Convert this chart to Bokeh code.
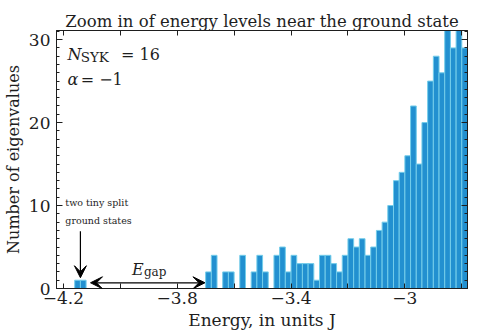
import numpy as np
from bokeh.plotting import figure
from bokeh.models import (FixedTicker, LinearAxis, CustomJSTickFormatter, Label,
                          Arrow, VeeHead, Range1d, ColumnDataSource)
from bokeh.embed import file_html
from bokeh.resources import INLINE

# ---- data ----
bin_start = -4.16
bin_width = 0.02
counts = ([1, 1] + [0] * 21 +
          [2, 4, 0, 2, 2, 0, 4, 0, 2, 4, 2, 0, 4, 5, 2, 4, 3, 3, 3, 1, 4, 4, 3, 2,
           4, 6, 5, 6, 4, 5, 7, 8, 10, 13, 14, 16, 22, 15, 20, 25, 28, 26, 33, 29,
           33, 29])
x_major_ticks = [-4.2, -3.8, -3.4, -3.0]
x_minor_ticks = [-4.0, -3.6, -3.2, -2.8]
x_tick_labels = ["\u22124.2", "\u22123.8", "\u22123.4", "\u22123"]
y_major_ticks = [0, 10, 20, 30]
y_minor_ticks = list(range(0, 32))

title_text = "Zoom in of energy levels near the ground state"
xlabel_text = "Energy, in units J"
ylabel_text = "Number of eigenvalues"

n = len(counts)
lefts = bin_start + bin_width * np.arange(n)
src = ColumnDataSource(dict(left=lefts, right=lefts + bin_width, top=counts,
                            bottom=np.zeros(n)))

SERIF = "DejaVu Serif"
INK = "#1e1e1e"

p = figure(width=469, height=332, x_range=Range1d(-4.224, -2.78),
           y_range=Range1d(0, 31.1), output_backend="svg", toolbar_location=None,
           min_border_left=49, min_border_right=2, min_border_top=30,
           min_border_bottom=44, title=title_text)
p.grid.visible = False
p.outline_line_color = INK
p.background_fill_color = "white"
p.border_fill_color = "white"

p.title.text_font = SERIF
p.title.text_font_size = "16.5px"
p.title.text_font_style = "normal"
p.title.text_color = INK
p.title.align = "center"
p.title.standoff = 0

p.quad(left="left", right="right", top="top", bottom="bottom", source=src,
       fill_color="#2290d0", line_color="#74cdea", line_width=1)

fmt = CustomJSTickFormatter(args=dict(majors=x_major_ticks, labs=x_tick_labels),
                            code="""
for (let i = 0; i < majors.length; i++) {
  if (Math.abs(tick - majors[i]) < 1e-6) return labs[i];
}
return '';
""")
blank = CustomJSTickFormatter(code="return '';")

def style_axis(ax, major, minor, tin, tmin, labels=True):
    ax.ticker = FixedTicker(ticks=major, minor_ticks=minor)
    ax.major_tick_in = tin
    ax.major_tick_out = 0
    ax.minor_tick_in = tmin
    ax.minor_tick_out = 0
    ax.axis_line_color = INK
    ax.major_tick_line_color = INK
    ax.minor_tick_line_color = INK
    ax.major_label_text_font = SERIF
    ax.major_label_text_color = INK
    if labels:
        ax.major_label_text_font_size = "17px"
    else:
        ax.formatter = blank
        ax.major_label_text_font_size = "1px"
        ax.major_label_standoff = 0

xa = p.xaxis[0]
style_axis(xa, x_major_ticks, x_minor_ticks, 5, 5)
xa.formatter = fmt
xa.major_label_standoff = 3
xa.axis_label = xlabel_text
xa.axis_label_text_font = SERIF
xa.axis_label_text_font_size = "17px"
xa.axis_label_text_font_style = "normal"
xa.axis_label_text_color = INK
xa.axis_label_standoff = 3

ya = p.yaxis[0]
style_axis(ya, y_major_ticks, y_minor_ticks, 6, 3)
ya.major_label_standoff = 6
ya.axis_label = ylabel_text
ya.axis_label_text_font = SERIF
ya.axis_label_text_font_size = "16px"
ya.axis_label_text_font_style = "normal"
ya.axis_label_text_color = INK
ya.axis_label_standoff = 3

top_ax = LinearAxis()
style_axis(top_ax, x_major_ticks, x_minor_ticks, 5, 5, labels=False)
p.add_layout(top_ax, "above")
right_ax = LinearAxis()
style_axis(right_ax, y_major_ticks, y_minor_ticks, 6, 3, labels=False)
p.add_layout(right_ax, "right")

def lab(x, y, text, size, style="normal"):
    p.add_layout(Label(x=x, y=y, text=text, text_font=SERIF, text_font_size=size,
                       text_font_style=style, text_color=INK,
                       text_baseline="alphabetic", text_align="left"))

# annotations
lab(-4.185, 28.17, "N", "16px", "italic")
lab(-4.139, 27.87, "SYK", "13.5px")
lab(-3.997, 28.17, "= 16", "16px")
lab(-4.185, 25.24, "\u03b1", "16px", "italic")
lab(-4.139, 25.24, "= \u22121", "16px")
lab(-4.193, 10.31, "two tiny split", "9.5px")
lab(-4.193, 8.18, "ground states", "9.5px")
lab(-3.9586, 2.32, "E", "16px", "italic")
lab(-3.917, 1.99, "gap", "12px")

p.add_layout(Arrow(end=VeeHead(size=12, fill_color="black", line_color="black"),
                   x_start=-4.14, y_start=6.9, x_end=-4.14, y_end=1.3,
                   line_color="black", line_width=1.2))
p.add_layout(Arrow(start=VeeHead(size=12, fill_color="black", line_color="black"),
                   end=VeeHead(size=12, fill_color="black", line_color="black"),
                   x_start=-4.1045, y_start=0.69, x_end=-3.7024, y_end=0.69,
                   line_color="black", line_width=1.2))

open("out.html", "w").write(file_html(p, INLINE))
